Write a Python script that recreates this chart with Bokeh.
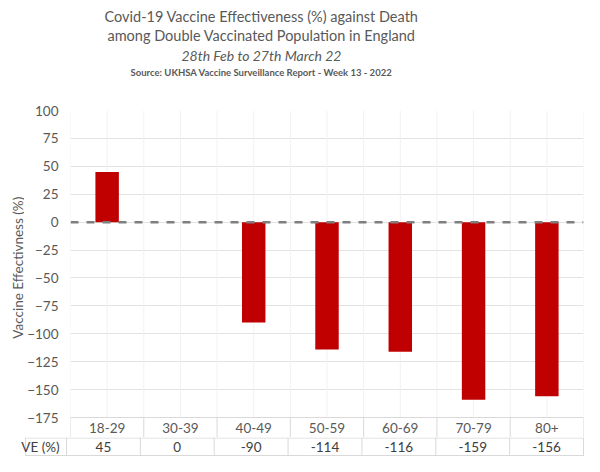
from bokeh.plotting import figure
from bokeh.models import Range1d, FixedTicker, Span
from bokeh.layouts import column, row
from bokeh.core.properties import value
from bokeh.embed import file_html
from bokeh.resources import INLINE
import math

categories = ["18-29", "30-39", "40-49", "50-59", "60-69", "70-79", "80+"]
ve_values = [45, 0, -90, -114, -116, -159, -156]
y_ticks = [-175, -150, -125, -100, -75, -50, -25, 0, 25, 50, 75, 100]
title_lines = [
    "Covid-19 Vaccine Effectiveness (%) against Death",
    "among Double Vaccinated Population in England",
    "28th Feb to 27th March 22",
    "Source: UKHSA Vaccine Surveillance Report - Week 13 - 2022",
]
y_label = "Vaccine Effectivness (%)"
row_label = "VE (%)"

FONT = "Lato"
GRAY = "#595959"
DARK = "#404040"
GRID = "#e3e3e3"
TABLE = "#d9d9d9"

n = len(categories)
xs = [i + 0.5 for i in range(n)]
W = 584
YLAB_W = 24
MAIN_W = W - YLAB_W
FRAME_L = 66
CW = (583 - FRAME_L) / n          # pixels per category
Y_BOTTOM = -192.9
MAIN_H = 337

def bare(fig):
    fig.outline_line_color = None
    fig.xgrid.visible = False
    fig.ygrid.visible = False
    fig.axis.visible = False
    return fig

# ---------------- title block ----------------
tfig = bare(figure(width=W, height=100, output_backend="svg", toolbar_location=None,
                   x_range=Range1d(0, W), y_range=Range1d(100, 0),
                   min_border=0, x_axis_location=None, y_axis_location=None))
specs = [
    (title_lines[0], 16, "14.5px", "normal"),
    (title_lines[1], 35, "14.5px", "normal"),
    (title_lines[2], 55, "14px", "italic"),
    (title_lines[3], 72, "9.5px", "bold"),
]
for txt, yy, fs, style in specs:
    tfig.text(x=[261], y=[yy], text=[txt], text_align="center", text_baseline="middle",
              text_font=value(FONT), text_font_size=fs, text_font_style=style,
              text_color=GRAY)

# ---------------- y label ----------------
lfig = bare(figure(width=YLAB_W, height=MAIN_H, output_backend="svg", toolbar_location=None,
                   x_range=Range1d(0, YLAB_W), y_range=Range1d(MAIN_H, 0),
                   min_border=0, x_axis_location=None, y_axis_location=None))
lfig.text(x=[17], y=[162], text=[y_label], angle=math.pi / 2, text_align="center",
          text_baseline="middle", text_font=value(FONT), text_font_size="13.5px",
          text_color=GRAY)

# ---------------- main chart ----------------
p = figure(width=MAIN_W, height=MAIN_H, output_backend="svg", toolbar_location=None,
           x_range=Range1d(0, n), y_range=Range1d(Y_BOTTOM, 100),
           min_border_left=FRAME_L - YLAB_W, min_border_right=1, min_border_top=10,
           min_border_bottom=0, x_axis_location=None)
p.outline_line_color = None
p.xgrid.visible = False
p.ygrid.ticker = FixedTicker(ticks=y_ticks)
p.ygrid.grid_line_color = GRID

vx = [i * 0.5 for i in range(0, 2 * n + 1)]
p.segment(x0=vx, x1=vx, y0=[y_ticks[0]] * len(vx), y1=[y_ticks[-1]] * len(vx),
          line_color="#f1f1f1", line_width=1)
tx = list(range(0, n + 1))
p.segment(x0=tx, x1=tx, y0=[Y_BOTTOM] * len(tx), y1=[y_ticks[0]] * len(tx),
          line_color=TABLE, line_width=1)
p.segment(x0=[0], x1=[n], y0=[y_ticks[0]], y1=[y_ticks[0]], line_color=TABLE, line_width=1)

p.vbar(x=xs, top=ve_values, bottom=0, width=0.32,
       fill_color="#c00000", line_color=None)

p.add_layout(Span(location=0, dimension="width", line_color="#7f7f7f",
                  line_width=2.5, line_dash="8 8"))

p.text(x=xs, y=[-184.0] * n, text=categories, text_align="center",
       text_baseline="middle", text_font=value(FONT), text_font_size="13.5px",
       text_color=GRAY)

ax = p.yaxis[0]
ax.ticker = FixedTicker(ticks=y_ticks)
ax.axis_line_color = None
ax.major_tick_line_color = None
ax.minor_tick_line_color = None
ax.major_tick_out = 0
ax.major_tick_in = 0
ax.major_label_standoff = 12
ax.major_label_text_font = FONT
ax.major_label_text_font_size = "13.5px"
ax.major_label_text_color = GRAY

# ---------------- VE row ----------------
VE_H = 456 - 100 - MAIN_H
vfig = bare(figure(width=W, height=VE_H, output_backend="svg", toolbar_location=None,
                   x_range=Range1d(-FRAME_L / CW, (W - FRAME_L) / CW),
                   y_range=Range1d(VE_H, 0), min_border=0,
                   x_axis_location=None, y_axis_location=None))
left_x = (25 - FRAME_L) / CW
vfig.segment(x0=[left_x, left_x], x1=[n, n], y0=[0.5, VE_H - 1], y1=[0.5, VE_H - 1],
             line_color=TABLE, line_width=1)
vlx = [left_x] + tx
vfig.segment(x0=vlx, x1=vlx, y0=[0] * len(vlx), y1=[VE_H] * len(vlx),
             line_color=TABLE, line_width=1)
vfig.text(x=xs, y=[VE_H / 2] * n, text=[str(v) for v in ve_values], text_align="center",
          text_baseline="middle", text_font=value(FONT), text_font_size="13.5px",
          text_color=DARK)
vfig.text(x=[(40 - FRAME_L) / CW], y=[VE_H / 2], text=[row_label], text_align="center",
          text_baseline="middle", text_font=value(FONT), text_font_size="13.5px",
          text_color=DARK)

layout = column(tfig, row(lfig, p), vfig)
open("out.html", "w").write(file_html(layout, INLINE))
